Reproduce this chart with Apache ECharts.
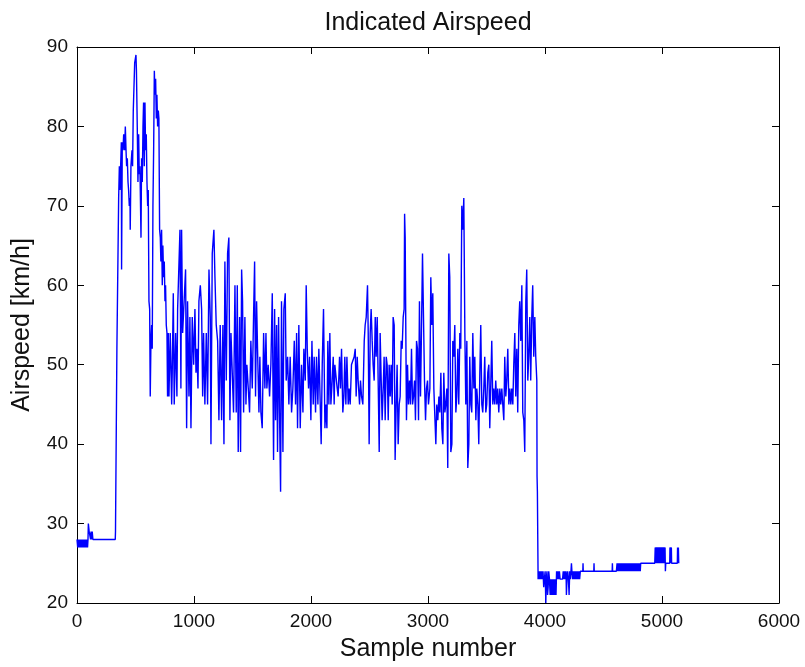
<!DOCTYPE html>
<html>
<head>
<meta charset="utf-8">
<script src="https://cdn.jsdelivr.net/npm/echarts@6/dist/echarts.min.js"></script>
<style>
html,body{margin:0;padding:0;background:#fff;}
#chart{width:805px;height:667px;}
</style>
</head>
<body>
<div id="chart"></div>
<script>
// [sample number, indicated airspeed km/h]
var groundPhase = [[0,28],[6,27],[12,28],[18,27],[24,28],[30,27],[36,28],[42,27],[48,28],[54,27],[60,28],[66,27],[72,28],[78,27],[84,28],[90,27],[94,28],[97,30],[102,30],[104,29],[112,29],[116,28],[120,29],[125,28],[130,29],[136,28],[327,28],[329,29],[339,29],[341,52],[354,52],[356,71]];

var climbPhase = [[362,75],[367,72],[373,75],[379,78],[381,62],[387,78],[393,77],[399,79],[407,77],[413,80],[419,77],[424,75],[430,76],[436,73],[441,72],[447,70],[453,71],[455,67],[461,75],[470,77],[475,75],[481,82],[490,82],[493,88],[504,89],[508,87],[515,80],[521,73],[527,79],[532,74],[538,75],[547,66],[552,76],[558,73],[564,80],[569,83],[575,75],[581,83],[586,77],[592,79],[598,73],[604,70],[609,72],[615,58],[621,57],[626,46],[632,53],[638,55],[643,52],[649,70],[655,77],[661,87],[666,84],[672,86],[678,81],[683,84],[689,80],[695,82],[700,81],[706,67],[712,66],[717,63],[723,67],[729,60],[734,65],[740,61],[746,63],[752,58],[757,60],[763,55],[769,54],[774,46],[780,54]];

var cruisePhaseA = [[786,46],[797,54],[809,45],[814,49],[823,59],[831,45],[843,54],[854,46],[860,57],[871,57],[880,67],[888,47],[894,67],[903,54],[917,54],[928,62],[937,42],[945,58],[957,46],[965,56],[974,42],[985,56],[997,50],[1008,57],[1017,49],[1025,52],[1034,47],[1042,58],[1054,60],[1065,57],[1074,46],[1082,54],[1093,45],[1105,54],[1116,45],[1128,62],[1139,56],[1145,40],[1156,64],[1170,67],[1179,61],[1190,55],[1202,53],[1213,43],[1224,55],[1236,43],[1247,55],[1256,40],[1264,63],[1276,48],[1287,64],[1298,66],[1307,43],[1316,54],[1327,54],[1338,44],[1350,60],[1361,44],[1370,60],[1378,39],[1390,56],[1398,39],[1407,62],[1415,58],[1424,44],[1435,56],
[1444,45],[1452,50],[1464,47],[1475,44],[1486,53],[1498,47],[1509,56],[1518,63],[1526,46],[1535,58],[1543,52],[1555,44],[1563,51],[1572,44],[1583,42],[1595,54],[1606,47],[1615,54],[1623,47],[1634,50],[1646,46],[1657,50],[1669,59],[1680,38],[1689,57],[1697,43],[1706,55],[1714,39],[1723,56],[1731,44],[1740,34],[1748,58],[1760,39],[1768,57],[1780,59],[1788,48],[1800,51],[1811,45],[1822,51],[1834,44],[1845,47],[1857,53],[1868,45],[1877,54],[1885,42],[1896,55],[1908,42],[1919,50],[1931,44],[1939,52],[1951,48],[1959,60],[1968,52],[1979,47],[1988,51],[1999,43],[2008,53],[2019,45],[2027,51],[2039,44],[2047,51],[2059,45],[2067,52],[2079,45],[2087,40],[2096,50],[2107,57],[2119,42]];

var cruisePhaseB = [[2127,45],[2136,42],[2144,53],[2153,45],[2161,54],[2170,45],[2181,48],[2190,51],[2198,45],[2204,50],[2215,50],[2224,47],[2232,46],[2244,51],[2252,47],[2261,52],[2272,44],[2281,46],[2289,51],[2298,45],[2307,51],[2318,45],[2326,47],[2335,45],[2346,50],[2358,50],[2369,51],[2378,52],[2386,46],[2395,51],[2403,48],[2415,45],[2423,48],[2432,46],[2443,45],[2455,53],[2463,55],[2472,56],[2483,60],[2489,54],[2497,40],[2506,54],[2514,57],[2523,53],[2531,50],[2540,48],[2549,56],[2557,51],[2566,56],[2574,48],[2583,39],[2591,54],[2600,48],[2608,43],[2617,47],[2625,51],[2634,43],[2643,51],[2651,50],[2660,43],[2668,50],[2677,46],[2685,50],[2694,45],[2702,56],[2711,55],[2719,38],[2728,45],[2736,50],[2745,40],[2754,45],[2762,46],[2771,53],[2779,52],[2788,56],[2796,57],[2800,69],[2805,66],[2811,53],[2816,43],[2825,50],[2833,45],[2842,48],[2850,45],[2859,52],[2868,45],[2876,46],[2885,48],[2893,43],[2902,53],[2910,52],[2919,43],[2927,58],[2936,46],[2944,54],[2953,64],[2962,64],[2970,48],[2979,43],[2987,47],[2996,48],[3004,45],[3016,47],[3024,61],[3033,55],[3041,59],[3050,47],[3058,47],[3067,40],[3075,45],[3084,43],[3093,46],[3101,44],[3110,49],[3118,42],[3127,40],[3135,49],[3144,44],[3152,45],[3161,47],[3169,37],[3178,64],[3186,61],[3195,39],[3204,40],[3212,53],[3221,51],[3229,55],[3238,44],[3246,46],[3255,52],[3263,45],[3272,54],[3280,52],[3289,70],[3297,67],[3306,71],[3315,54],[3323,45],[3332,53],[3340,37],[3349,40],[3357,51],[3366,45],[3374,44],[3383,54],[3392,47],[3400,51],[3409,43],[3417,47],[3426,45],[3434,40],[3443,49],[3451,55],[3460,45],[3468,44],[3477,47],[3485,51],[3494,44],[3502,45],[3511,49],[3520,50],[3528,42],[3537,42],[3545,53],[3554,45],[3562,47],[3571,45],[3579,48],[3588,45],[3596,47],[3605,44],[3614,47],[3622,45],[3631,47],[3639,45],[3648,43],[3656,51],[3665,46],[3673,48],[3682,52],[3691,45],[3699,47],[3708,45],[3716,47],[3725,45],[3733,50],[3742,54]];

var descentPhase = [[3750,46],[3759,52],[3767,44],[3776,55],[3784,58],[3793,53],[3802,60],[3810,44],[3819,43],[3827,39],[3836,58],[3844,62],[3853,48],[3861,51],[3870,56],[3878,48],[3887,56],[3895,60],[3904,51],[3913,56],[3921,51],[3930,48],[3932,36],[3935,34],[3941,23]];

var landedPhase = [[3947,24],[3953,23],[3959,24],[3965,23],[3971,24],[3977,23],[3983,24],[3989,22],[3995,23],[4001,24],[4007,20],[4011,23],[4017,24],[4022,21],[4027,22],[4032,24],[4038,23],[4044,21],[4049,23],[4054,21],[4059,23],[4064,21],[4069,23],[4074,21],[4079,23],[4084,21],[4089,23],[4094,21],[4099,24],[4105,23],[4111,24],[4117,23],[4123,24],[4129,23],[4150,23],[4156,24],[4162,23],[4168,24],[4174,23],[4180,24],[4183,21],[4188,23],[4194,24],[4200,23],[4206,21],[4211,24],[4217,23],[4222,24],[4226,25],[4230,24],[4236,23],[4242,24],[4248,23],[4254,24],[4260,23],[4266,24],[4272,23],[4278,24],[4284,23],[4290,24],[4296,23],[4302,24],[4323,24],[4325,25],[4327,24],[4417,24],[4419,25],[4421,24],[4574,24],[4576,25],[4578,24],[4610,24],[4616,25],[4622,24],[4628,25],[4634,24],[4640,25],[4646,24],[4652,25],[4658,24],[4664,25],[4670,24],[4676,25],[4682,24],[4688,25],[4694,24],[4700,25],[4706,24],[4712,25],[4718,24],[4724,25],[4730,24],[4736,25],[4742,24],[4748,25],[4754,24],[4760,25],[4766,24],[4772,25],[4778,24],[4784,25],[4790,24],[4796,25],[4802,24],[4808,25],[4814,24],[4818,25],[4938,25],[4942,27],[4948,25],[4954,27],[4960,25],[4966,27],[4972,25],[4978,27],[4984,25],[4990,27],[4996,25],[5002,27],[5008,25],[5014,27],[5020,25],[5026,27],[5029,24],[5032,25],[5066,25],[5068,27],[5074,25],[5080,27],[5082,25],[5131,25],[5133,27],[5137,25],[5140,27],[5143,25]];

var xTicks = {min: 0, max: 6000, step: 1000};
var yTicks = {min: 20, max: 90, step: 10};

var chartTitle = 'Indicated Airspeed';
var xLabel = 'Sample number';
var yLabel = 'Airspeed [km/h]';

var airspeed = [].concat(groundPhase, climbPhase, cruisePhaseA, cruisePhaseB, descentPhase, landedPhase);

var FONT = '"Liberation Sans", Arial, Helvetica, sans-serif';
var TEXT = '#111';
var axisLine = {show: true, onZero: false, lineStyle: {color: '#000', width: 1}};
var tick = {show: true, inside: true, length: 7, lineStyle: {color: '#000', width: 1}};
var plain = function (v) { return String(v); };

var chart = echarts.init(document.getElementById('chart'), null, {renderer: 'canvas'});
chart.setOption({
  animation: false,
  backgroundColor: '#fff',
  title: {
    text: chartTitle,
    left: 428, top: 11, padding: 0, textAlign: 'center',
    textStyle: {fontFamily: FONT, fontSize: 25, fontWeight: 'normal', color: TEXT}
  },
  grid: {left: 77, right: 26, top: 47, bottom: 64, containLabel: false, outerBoundsMode: 'none'},
  xAxis: [{
    type: 'value', position: 'bottom', min: xTicks.min, max: xTicks.max, interval: xTicks.step,
    axisLine: axisLine, axisTick: tick, splitLine: {show: false},
    axisLabel: {color: TEXT, fontFamily: FONT, fontSize: 19, margin: 9, formatter: plain},
    name: xLabel, nameLocation: 'middle', nameGap: 34,
    nameTextStyle: {color: TEXT, fontFamily: FONT, fontSize: 25}
  }, {
    type: 'value', position: 'top', min: xTicks.min, max: xTicks.max, interval: xTicks.step,
    axisLine: axisLine, axisTick: tick, splitLine: {show: false}, axisLabel: {show: false}
  }],
  yAxis: [{
    type: 'value', position: 'left', min: yTicks.min, max: yTicks.max, interval: yTicks.step,
    axisLine: axisLine, axisTick: tick, splitLine: {show: false},
    axisLabel: {color: TEXT, fontFamily: FONT, fontSize: 19, margin: 9, formatter: plain},
    name: yLabel, nameLocation: 'middle', nameGap: 42,
    nameTextStyle: {color: TEXT, fontFamily: FONT, fontSize: 25}
  }, {
    type: 'value', position: 'right', min: yTicks.min, max: yTicks.max, interval: yTicks.step,
    axisLine: axisLine, axisTick: tick, splitLine: {show: false}, axisLabel: {show: false}
  }],
  series: [{
    type: 'line', xAxisIndex: 0, yAxisIndex: 0,
    data: airspeed, showSymbol: false, symbol: 'none',
    lineStyle: {color: '#0000ff', width: 1.4}, emphasis: {disabled: true},
    silent: true
  }]
});
</script>
</body>
</html>
